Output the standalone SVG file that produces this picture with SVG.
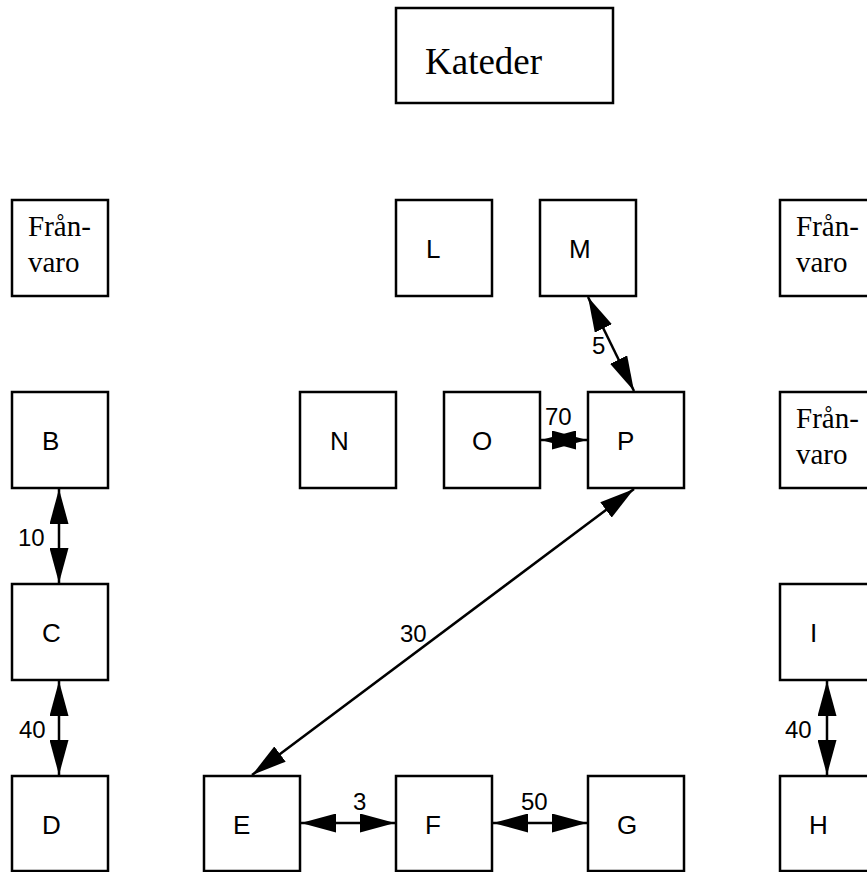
<svg xmlns="http://www.w3.org/2000/svg" width="867" height="872" viewBox="0 0 867 872">
  <style>
    .box { fill: #ffffff; stroke: #000000; stroke-width: 2.5; }
    .lbl { font-family: "Liberation Sans", Arial, sans-serif; font-size: 26px; fill: #000000; }
    .serif { font-family: "Liberation Serif", "Times New Roman", serif; fill: #000000; }
    .edge { stroke: #000000; stroke-width: 2.5; fill: none; marker-start: url(#head); marker-end: url(#head); }
    .elbl { font-family: "Liberation Sans", Arial, sans-serif; font-size: 24px; fill: #000000; }
  </style>
  <defs>
    <marker id="head" viewBox="0 0 35 19" refX="35" refY="9.5" markerWidth="35" markerHeight="19" markerUnits="userSpaceOnUse" orient="auto-start-reverse">
      <path d="M0,0 L35,9.5 L0,19 z" fill="#000000"/>
    </marker>
  </defs>
  <rect width="867" height="872" fill="#ffffff"/>

  <!-- teacher's desk -->
  <g id="kateder">
    <rect class="box" x="396" y="8" width="217" height="95"/>
    <text class="serif" x="425" y="74" font-size="37">Kateder</text>
  </g>

  <!-- absence seats -->
  <g id="franvaro-left">
    <rect class="box" x="12" y="200" width="96" height="96"/>
    <text class="serif" x="28" y="236" font-size="29">Från-</text>
    <text class="serif" x="28" y="272" font-size="29">varo</text>
  </g>
  <g id="franvaro-right-1">
    <rect class="box" x="780" y="200" width="96" height="96"/>
    <text class="serif" x="796" y="236" font-size="29">Från-</text>
    <text class="serif" x="796" y="272" font-size="29">varo</text>
  </g>
  <g id="franvaro-right-2">
    <rect class="box" x="780" y="392" width="96" height="96"/>
    <text class="serif" x="796" y="428" font-size="29">Från-</text>
    <text class="serif" x="796" y="464" font-size="29">varo</text>
  </g>

  <!-- seats -->
  <g id="L"><rect class="box" x="396" y="200" width="96" height="96"/><text class="lbl" x="426" y="258">L</text></g>
  <g id="M"><rect class="box" x="540" y="200" width="96" height="96"/><text class="lbl" x="569" y="258">M</text></g>
  <g id="B"><rect class="box" x="12" y="392" width="96" height="96"/><text class="lbl" x="42" y="450">B</text></g>
  <g id="N"><rect class="box" x="300" y="392" width="96" height="96"/><text class="lbl" x="330" y="450">N</text></g>
  <g id="O"><rect class="box" x="444" y="392" width="96" height="96"/><text class="lbl" x="472" y="450">O</text></g>
  <g id="P"><rect class="box" x="588" y="392" width="96" height="96"/><text class="lbl" x="617" y="450">P</text></g>
  <g id="C"><rect class="box" x="12" y="584" width="96" height="96"/><text class="lbl" x="42" y="642">C</text></g>
  <g id="I"><rect class="box" x="780" y="584" width="96" height="96"/><text class="lbl" x="810" y="642">I</text></g>
  <g id="D"><rect class="box" x="12" y="776" width="96" height="95"/><text class="lbl" x="42" y="834">D</text></g>
  <g id="E"><rect class="box" x="204" y="776" width="96" height="95"/><text class="lbl" x="233" y="834">E</text></g>
  <g id="F"><rect class="box" x="396" y="776" width="96" height="95"/><text class="lbl" x="425" y="834">F</text></g>
  <g id="G"><rect class="box" x="588" y="776" width="96" height="95"/><text class="lbl" x="617" y="834">G</text></g>
  <g id="H"><rect class="box" x="780" y="776" width="96" height="95"/><text class="lbl" x="809" y="834">H</text></g>

  <!-- distances between seats -->
  <g id="connectors">
    <line class="edge" x1="59" y1="489" x2="59" y2="583"/>
    <text class="elbl" x="18" y="546">10</text>
    <line class="edge" x1="59" y1="681" x2="59" y2="775"/>
    <text class="elbl" x="19" y="738">40</text>
    <line class="edge" x1="827" y1="681" x2="827" y2="775"/>
    <text class="elbl" x="785" y="738">40</text>
    <line class="edge" x1="301" y1="823" x2="395" y2="823"/>
    <text class="elbl" x="353" y="810">3</text>
    <line class="edge" x1="493" y1="823" x2="587" y2="823"/>
    <text class="elbl" x="521" y="810">50</text>
    <line class="edge" x1="541" y1="440" x2="587" y2="440"/>
    <text class="elbl" x="545" y="425">70</text>
    <line class="edge" x1="588" y1="297" x2="634" y2="391"/>
    <text class="elbl" x="592" y="354">5</text>
    <line class="edge" x1="252" y1="775" x2="634" y2="489"/>
    <text class="elbl" x="400" y="642">30</text>
  </g>
</svg>
